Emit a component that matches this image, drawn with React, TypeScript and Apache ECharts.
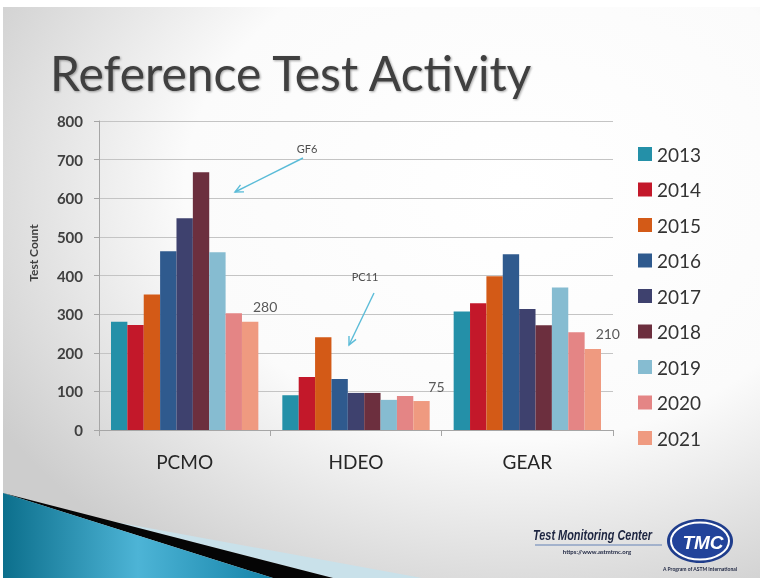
import React, { useEffect, useRef } from "react";
import * as echarts from "echarts";

const categories = ["PCMO", "HDEO", "GEAR"];
const years = ["2013", "2014", "2015", "2016", "2017", "2018", "2019", "2020", "2021"];
const yearColors = ["#2490a8", "#c3182a", "#d35a17", "#2f5a8e", "#3e416e", "#6c2f3e", "#86bcd1", "#e48585", "#ef9a80"];

const v2013 = [280, 90, 307];
const v2014 = [272, 137, 328];
const v2015 = [351, 240, 398];
const v2016 = [463, 132, 455];
const v2017 = [548, 96, 313];
const v2018 = [667, 96, 271];
const v2019 = [460, 78, 369];
const v2020 = [302, 88, 253];
const v2021 = [280, 75, 210];

const yearValues = [v2013, v2014, v2015, v2016, v2017, v2018, v2019, v2020, v2021];
const yTicks = { min: 0, max: 800, interval: 100 };

function arrow(x1: number, y1: number, x2: number, y2: number, color: string) {
  const dx = x2 - x1, dy = y2 - y1;
  const len = Math.hypot(dx, dy);
  const ux = dx / len, uy = dy / len;
  const h = 9, a = Math.PI / 7;
  const c = Math.cos(a), s = Math.sin(a);
  const p1 = [x2 - h * (ux * c - uy * s), y2 - h * (uy * c + ux * s)];
  const p2 = [x2 - h * (ux * c + uy * s), y2 - h * (uy * c - ux * s)];
  return [
    { type: "line", z: 10, shape: { x1, y1, x2, y2 }, style: { stroke: color, lineWidth: 1.4 } },
    { type: "polyline", z: 10, shape: { points: [p1, [x2, y2], p2] }, style: { stroke: color, lineWidth: 1.4, fill: null } },
  ];
}

export default function App() {
  const ref = useRef<HTMLDivElement>(null);
  useEffect(() => {
    if (!ref.current) return;
    const chart = echarts.init(ref.current, null, { renderer: "svg" });
    const series = years.map((y, i) => ({
      name: y,
      type: "bar",
      data: yearValues[i],
      barGap: "0%",
      barCategoryGap: "14%",
      itemStyle: { color: yearColors[i] },
      label:
        i === years.length - 1
          ? { show: true, position: "top", offset: [15, -3], fontFamily: "Lato", fontSize: 14, color: "#595959" }
          : { show: false },
    }));
    const arrowColor = "#5bbcd8";
    chart.setOption({
      animation: false,
      graphic: [
        {
          type: "rect",
          z: -100,
          shape: { x: 3, y: 7, width: 757, height: 571 },
          style: {
            fill: new echarts.graphic.RadialGradient(0.68, 0.32, 0.8, [
              { offset: 0, color: "#ffffff" },
              { offset: 0.55, color: "#fbfbfb" },
              { offset: 1, color: "#cdcdcd" },
            ]),
          },
        },
        {
          type: "polygon",
          z: -50,
          shape: { points: [[110, 521], [422, 578], [333, 578]] },
          style: { fill: "#c9e1ea" },
        },
        {
          type: "polygon",
          z: -50,
          shape: { points: [[3, 493], [333, 578], [273, 578]] },
          style: { fill: "#050505" },
        },
        {
          type: "polygon",
          z: -50,
          shape: { points: [[3, 493], [273, 578], [3, 578]] },
          style: {
            fill: new echarts.graphic.LinearGradient(0, 0, 1, 0, [
              { offset: 0, color: "#0c6f8c" },
              { offset: 0.5, color: "#4db4d6" },
              { offset: 1, color: "#1583a8" },
            ]),
          },
        },
        {
          type: "text",
          z: 10,
          style: {
            text: "Reference Test Activity",
            x: 50,
            y: 72,
            textVerticalAlign: "middle",
            fontFamily: "Lato",
            fontSize: 48,
            fill: "#3f3f3f",
            textShadowColor: "rgba(0,0,0,0.35)",
            textShadowBlur: 2,
            textShadowOffsetX: 1,
            textShadowOffsetY: 1,
          },
        },
        {
          type: "text",
          z: 10,
          x: 33,
          y: 253,
          rotation: Math.PI / 2,
          style: {
            text: "Test Count",
            x: 0,
            y: 0,
            textAlign: "center",
            textVerticalAlign: "middle",
            fontFamily: "Lato",
            fontWeight: "bold",
            fontSize: 12,
            fill: "#404040",
          },
        },
        {
          type: "text",
          z: 10,
          style: { text: "GF6", x: 307, y: 148, textAlign: "center", textVerticalAlign: "middle", fontFamily: "Lato", fontSize: 11, fill: "#4d4d4d" },
        },
        ...arrow(303, 158, 235, 192, arrowColor),
        {
          type: "text",
          z: 10,
          style: { text: "PC11", x: 365, y: 276, textAlign: "center", textVerticalAlign: "middle", fontFamily: "Lato", fontSize: 11, fill: "#4d4d4d" },
        },
        ...arrow(374, 293, 349, 345, arrowColor),
        // logo
        {
          type: "text",
          z: 10,
          x: 533,
          y: 536,
          scaleX: 0.78,
          style: {
            text: "Test Monitoring Center",
            x: 0,
            y: 0,
            textVerticalAlign: "middle",
            fontFamily: "Liberation Sans, sans-serif",
            fontWeight: "bold",
            fontStyle: "italic",
            fontSize: 14,
            fill: "#1c2440",
          },
        },
        { type: "line", z: 10, shape: { x1: 535, y1: 545, x2: 662, y2: 545 }, style: { stroke: "#8ea2c4", lineWidth: 1.5 } },
        {
          type: "text",
          z: 10,
          style: { text: "https://www.astmtmc.org", x: 597, y: 551, textAlign: "center", textVerticalAlign: "middle", fontFamily: "Lato", fontWeight: "bold", fontSize: 6, fill: "#1c2440" },
        },
        { type: "ellipse", z: 10, shape: { cx: 700, cy: 541, rx: 33, ry: 22 }, style: { fill: "#1f3d8c" } },
        { type: "ellipse", z: 11, shape: { cx: 700, cy: 541, rx: 29, ry: 18.5 }, style: { fill: "#22439a", stroke: "#ffffff", lineWidth: 2 } },
        {
          type: "text",
          z: 12,
          style: { text: "TMC", x: 703, y: 542, textAlign: "center", textVerticalAlign: "middle", fontFamily: "Liberation Sans, sans-serif", fontWeight: "bold", fontStyle: "italic", fontSize: 19, fill: "#ffffff" },
        },
        {
          type: "text",
          z: 10,
          style: { text: "A Program of ASTM International", x: 700, y: 569, textAlign: "center", textVerticalAlign: "middle", fontFamily: "Lato", fontWeight: "bold", fontSize: 5, fill: "#1c2440" },
        },
      ],
      legend: {
        orient: "vertical",
        left: 633,
        top: 139,
        itemWidth: 14,
        itemHeight: 14,
        itemGap: 15.5,
        icon: "rect",
        data: years,
        textStyle: { fontFamily: "Lato", fontSize: 19, color: "#333333", lineHeight: 20 },
      },
      grid: { left: 99, right: 147, top: 121, bottom: 148, containLabel: false },
      xAxis: {
        type: "category",
        data: categories,
        axisLine: { show: true, lineStyle: { color: "#a6a6a6", width: 1 } },
        axisTick: { show: true, length: 6, lineStyle: { color: "#a6a6a6" } },
        axisLabel: { margin: 22, fontFamily: "Lato", fontSize: 19, color: "#262626" },
      },
      yAxis: {
        type: "value",
        min: yTicks.min,
        max: yTicks.max,
        interval: yTicks.interval,
        axisLine: { show: true, lineStyle: { color: "#a6a6a6", width: 1 } },
        axisTick: { show: true, length: 5, lineStyle: { color: "#a6a6a6" } },
        axisLabel: { margin: 16, fontFamily: "Lato", fontWeight: "bold", fontSize: 15, color: "#404040" },
        splitLine: { show: true, lineStyle: { color: "#c4c4c4", width: 1.2 } },
      },
      series,
    });
    return () => chart.dispose();
  }, []);
  return <div ref={ref} style={{ position: "fixed", left: 0, top: 0, width: 760, height: 578 }} />;
}
